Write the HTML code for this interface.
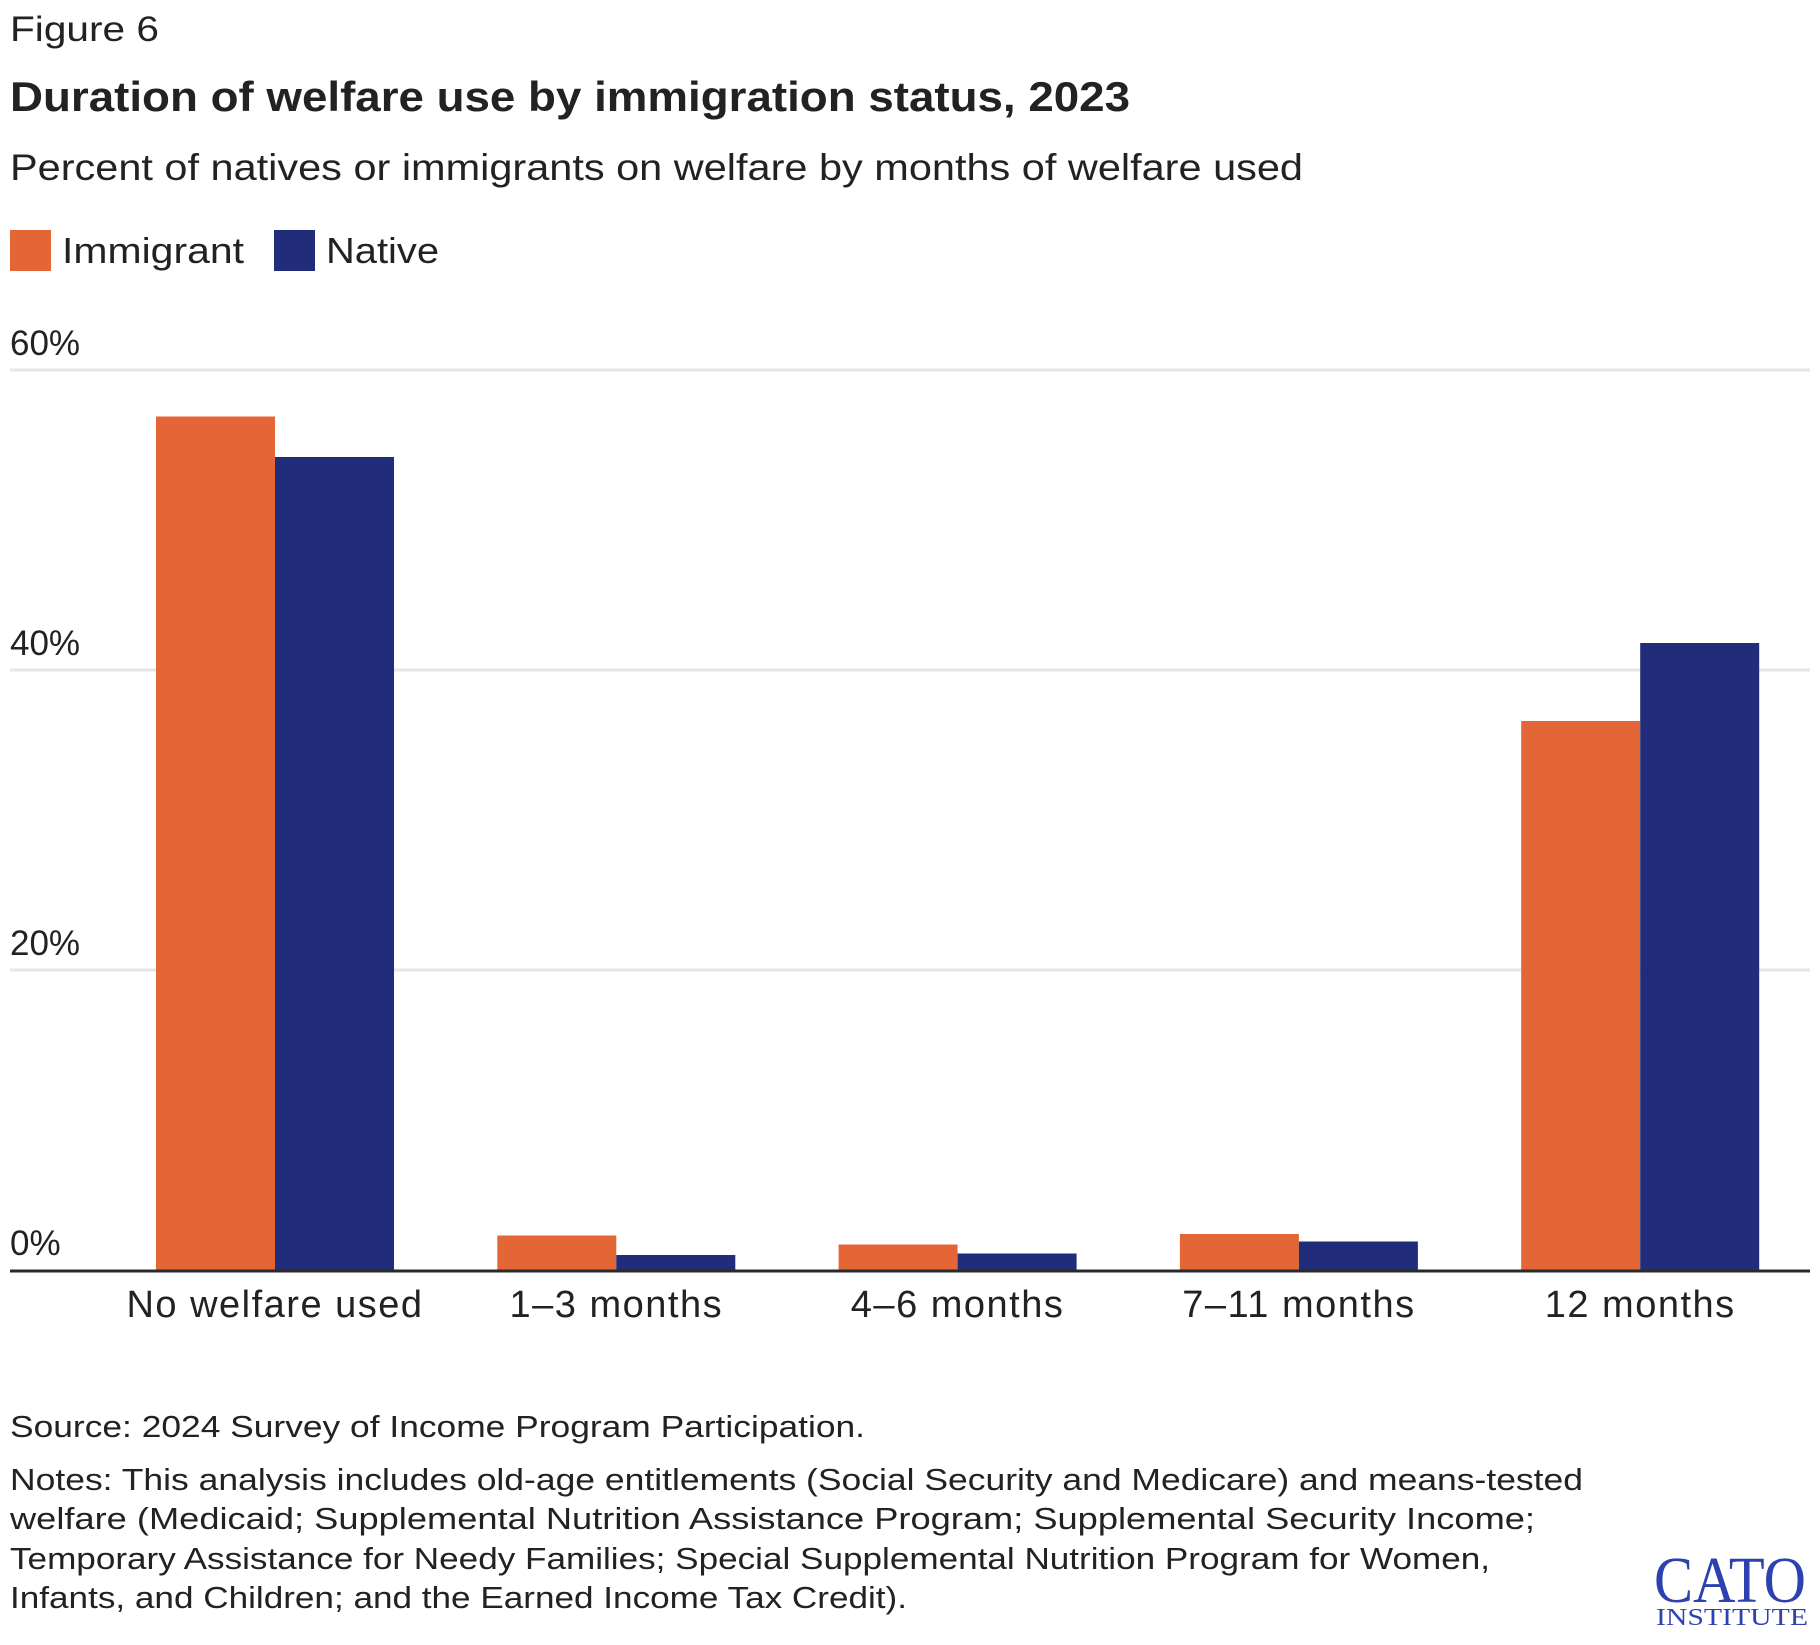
<!DOCTYPE html>
<html><head><meta charset="utf-8"><style>
body{margin:0;background:#fff;}
svg text{font-family:"Liberation Sans",sans-serif;fill:#222;}
</style></head><body>
<svg width="1820" height="1640" viewBox="0 0 1820 1640" xmlns="http://www.w3.org/2000/svg" id="chart">
<text x="10" y="41" font-size="35" textLength="149" lengthAdjust="spacingAndGlyphs">Figure 6</text>
<text x="10" y="111" font-size="42" font-weight="bold" textLength="1120" lengthAdjust="spacingAndGlyphs">Duration of welfare use by immigration status, 2023</text>
<text x="10" y="180" font-size="37" textLength="1293" lengthAdjust="spacingAndGlyphs">Percent of natives or immigrants on welfare by months of welfare used</text>
<g>
<rect x="10" y="230" width="41" height="41" fill="#E46637"/>
<text x="62" y="263" font-size="36" textLength="182" lengthAdjust="spacingAndGlyphs">Immigrant</text>
<rect x="274" y="230" width="41" height="41" fill="#212D7A"/>
<text x="326" y="263" font-size="36" textLength="113" lengthAdjust="spacingAndGlyphs">Native</text>
</g>
<g id="grid"></g><g id="bars"></g><g id="xlabels"></g>
<line x1="10" x2="1810" y1="1271" y2="1271" stroke="#2a2a2a" stroke-width="3"/>
<text x="10" y="1437" font-size="31" textLength="855" lengthAdjust="spacingAndGlyphs">Source: 2024 Survey of Income Program Participation.</text>
<g font-size="31">
<text x="10" y="1490" textLength="1573" lengthAdjust="spacingAndGlyphs">Notes: This analysis includes old-age entitlements (Social Security and Medicare) and means-tested</text>
<text x="10" y="1529" textLength="1525" lengthAdjust="spacingAndGlyphs">welfare (Medicaid; Supplemental Nutrition Assistance Program; Supplemental Security Income;</text>
<text x="10" y="1569" textLength="1480" lengthAdjust="spacingAndGlyphs">Temporary Assistance for Needy Families; Special Supplemental Nutrition Program for Women,</text>
<text x="10" y="1608" textLength="897" lengthAdjust="spacingAndGlyphs">Infants, and Children; and the Earned Income Tax Credit).</text>
</g>
<g>
<text x="1806" y="1602" text-anchor="end" font-size="66" style="font-family:'Liberation Serif',serif;fill:#2d41b0" textLength="152" lengthAdjust="spacingAndGlyphs">CATO</text>
<text x="1808" y="1625" text-anchor="end" font-size="24" style="font-family:'Liberation Serif',serif;fill:#2d41b0" textLength="152" lengthAdjust="spacingAndGlyphs">INSTITUTE</text>
</g>
</svg>
<script>
const categories=["No welfare used","1–3 months","4–6 months","7–11 months","12 months"];
const immigrant=[56.9,2.3,1.7,2.4,36.6];
const native=[54.2,1.0,1.1,1.9,41.8];
const ticks=[0,20,40,60];
const tickLabels=["0%","20%","40%","60%"];
const NS="http://www.w3.org/2000/svg";
const y0=1270,pxPer=15;
function y(v){return y0-v*pxPer;}
function cx(i){return 275+i*341.3;}
const bw=119;
const grid=document.getElementById('grid'),bars=document.getElementById('bars'),xl=document.getElementById('xlabels');
function mk(tag,attrs,parent){const e=document.createElementNS(NS,tag);for(const k in attrs)e.setAttribute(k,attrs[k]);parent.appendChild(e);return e;}
ticks.forEach((t,i)=>{
 if(t>0){const l=mk('line',{x1:10,x2:1810,y1:y(t),y2:y(t),stroke:'#e6e6e6','stroke-width':3},grid);
 
 }
 const tx=mk('text',{x:10,y:y(t)-15,'font-size':35},grid);tx.textContent=tickLabels[i];
 
 
});
categories.forEach((c,i)=>{
 const a=mk('rect',{x:cx(i)-bw,y:y(immigrant[i]),width:bw,height:immigrant[i]*pxPer,fill:'#E46637'},bars);
 
 
 const b=mk('rect',{x:cx(i),y:y(native[i]),width:bw,height:native[i]*pxPer,fill:'#212D7A'},bars);
 
 
 const t=mk('text',{x:cx(i),y:1317,'font-size':38,'text-anchor':'middle','letter-spacing':'1.5'},xl);t.textContent=c;
 
 
});
</script>
</body></html>
